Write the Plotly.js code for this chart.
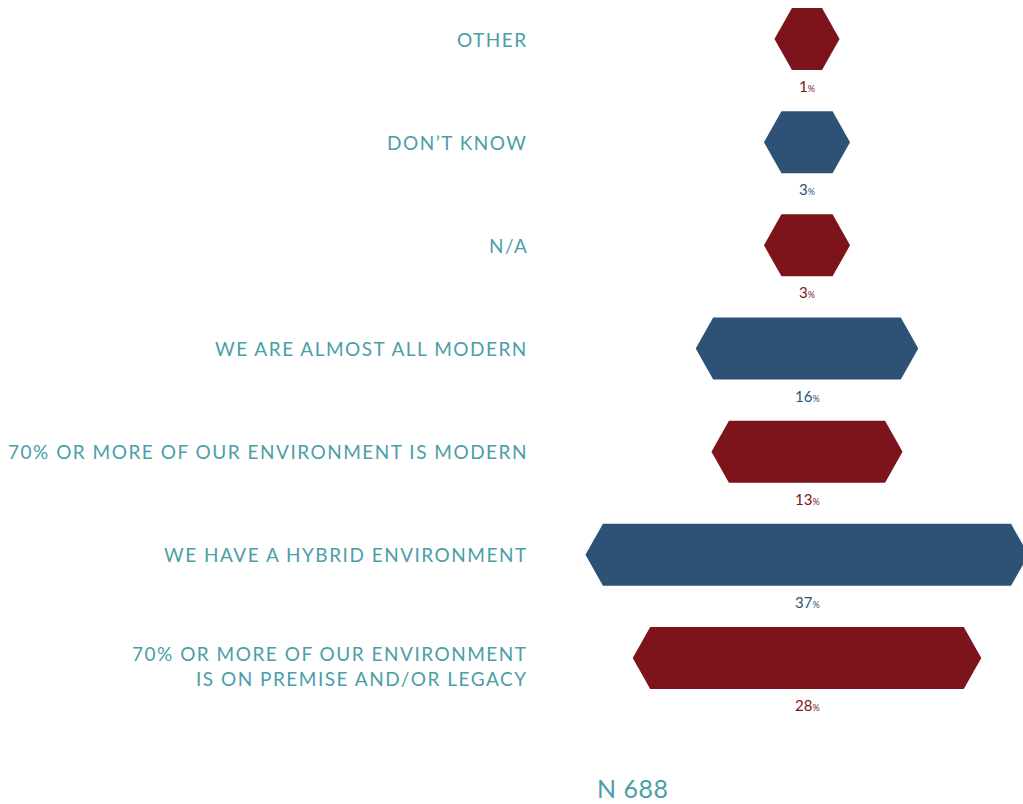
<!DOCTYPE html>
<html>
<head>
<meta charset="utf-8">
<script src="https://cdn.plot.ly/plotly-3.0.1.min.js"></script>
<style>
html,body{margin:0;padding:0;background:#fff;}
#chart{width:1023px;height:804px;}
</style>
</head>
<body>
<div id="chart"></div>
<script>
// Data (top to bottom as drawn)
const categories = [
  "OTHER",
  "DON’T KNOW",
  "N/A",
  "WE ARE ALMOST ALL MODERN",
  "70% OR MORE OF OUR ENVIRONMENT IS MODERN",
  "WE HAVE A HYBRID ENVIRONMENT",
  "70% OR MORE OF OUR ENVIRONMENT<br>IS ON PREMISE AND/OR LEGACY"
];
const values = [1, 3, 3, 16, 13, 37, 28];
const sampleLabel = "N 688";

// Styling
const RED = "#7d141b", BLUE = "#2e5276", TEAL = "#4a9ea8";
const colors = values.map((v, i) => (i % 2 === 0 ? RED : BLUE));
const FONT = "Lato, 'Open Sans', sans-serif";

// Geometry in axis units (x: 1 unit ≈ 10.5px; y: 1 unit per row)
const W = 1023, H = 804;
const pxPerX = 10.5, centerPx = 807;
const base = 5.2;                  // minimum hexagon width in x-units
const tip = 17.5 / pxPerX;         // pointed end depth
const rowTop = 39, rowStep = 103.17;
const halfH = 31 / rowStep;

const xRange = [-centerPx / pxPerX, (W - centerPx) / pxPerX];
const yRange = [(H - rowTop) / rowStep, -rowTop / rowStep];

const traces = values.map((v, i) => {
  const hw = (base + v) / 2;
  const xs = [-hw, -hw + tip, hw - tip, hw, hw - tip, -hw + tip, -hw];
  const ys = [i, i - halfH, i - halfH, i, i + halfH, i + halfH, i];
  return {
    type: "scatter", mode: "lines", x: xs, y: ys,
    fill: "toself", fillcolor: colors[i],
    line: {color: colors[i], width: 0},
    hoverinfo: "skip", showlegend: false
  };
});

const spaced = s => s.split("<br>")
  .map(line => "<span style='letter-spacing:1.5px'>" + line + "</span>")
  .join("<br>");

const annotations = [];
categories.forEach((c, i) => {
  annotations.push({
    xref: "paper", yref: "y", x: 530 / W, y: i,
    text: spaced(c), showarrow: false, xanchor: "right", yanchor: "middle",
    align: "right", yshift: c.includes("<br>") ? -8 : 0,
    font: {family: FONT, size: 19, color: TEAL}
  });
  annotations.push({
    xref: "x", yref: "y", x: 0, y: i + 47 / rowStep,
    text: values[i] + "<span style='font-size:9px'>%</span>",
    showarrow: false, xanchor: "center", yanchor: "middle",
    font: {family: FONT, size: 15, color: colors[i]}
  });
});
annotations.push({
  xref: "paper", yref: "paper", x: 633 / W, y: 1 - 788 / H,
  text: "<span style='letter-spacing:0.5px'>" + sampleLabel + "</span>",
  showarrow: false, xanchor: "center", yanchor: "middle",
  font: {family: FONT, size: 25, color: TEAL}
});

const layout = {
  width: W, height: H,
  margin: {l: 0, r: 0, t: 0, b: 0, pad: 0},
  paper_bgcolor: "#fff", plot_bgcolor: "#fff",
  xaxis: {range: xRange, visible: false, fixedrange: true},
  yaxis: {range: yRange, visible: false, fixedrange: true},
  annotations: annotations,
  showlegend: false
};

Plotly.newPlot("chart", traces, layout, {displayModeBar: false, staticPlot: true});
</script>
</body>
</html>
